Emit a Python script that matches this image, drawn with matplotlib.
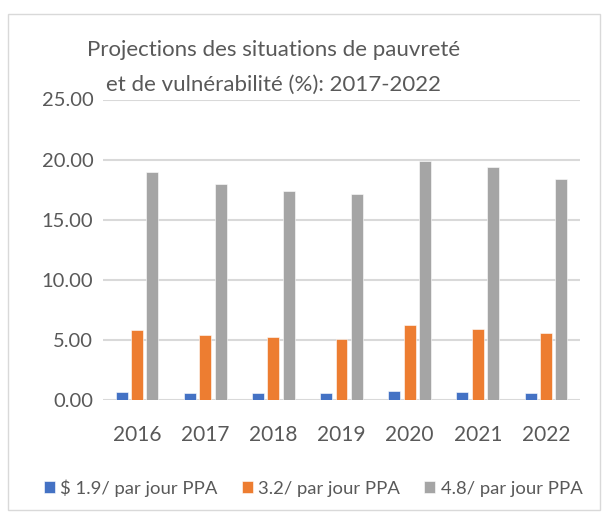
import matplotlib
matplotlib.use("Agg")
import matplotlib.pyplot as plt
import numpy as np
from matplotlib.patches import Rectangle

years = ["2016", "2017", "2018", "2019", "2020", "2021", "2022"]
s19 = [0.66, 0.61, 0.55, 0.55, 0.72, 0.66, 0.61]
s32 = [5.82, 5.37, 5.20, 5.04, 6.20, 5.93, 5.54]
s48 = [19.0, 18.0, 17.4, 17.15, 19.9, 19.4, 18.4]
labels = ["$ 1.9/ par jour PPA", "3.2/ par jour PPA", "4.8/ par jour PPA"]
colors = ["#4472C4", "#ED7D31", "#A5A5A5"]
yticks = [0, 5, 10, 15, 20, 25]

plt.rcParams['font.family'] = ['Lato', 'DejaVu Sans']

fig = plt.figure(figsize=(6.05, 5.21), dpi=100)
fig.patches.append(Rectangle((8/605, 1-510/521), 592/605, (510-14)/521,
                             transform=fig.transFigure, fill=False,
                             edgecolor="#d9d9d9", linewidth=1.0))
ax = fig.add_axes([103/605, 1-400/521, 477/605, (400-99.5)/521])

x = np.arange(len(years))
w = 0.175
off = 0.225
for i, (s, c, lab) in enumerate(zip([s19, s32, s48], colors, labels)):
    ax.bar(x + (i-1)*off, s, width=w, color=c, label=lab, zorder=3,
           edgecolor="white", linewidth=0.4)

ax.set_xlim(-0.5, len(years)-0.5)
ax.set_ylim(0, 25)
ax.set_yticks(yticks)
ax.set_yticklabels([f"{v:.2f}" for v in yticks], fontsize=14.5, color="#595959")
ax.set_xticks(x)
ax.set_xticklabels(years, fontsize=15, color="#595959")
ax.tick_params(axis='x', length=0, pad=18)
ax.tick_params(axis='y', length=0, pad=7)
ax.yaxis.grid(True, color="#d9d9d9", linewidth=1.5, zorder=0)
for sp in ax.spines.values():
    sp.set_visible(False)

fig.text(274/605, 1-50/521, "Projections des situations de pauvreté",
         ha="center", va="center", fontsize=16, color="#595959")
fig.text(274/605, 1-85/521, "et de vulnérabilité (%): 2017-2022",
         ha="center", va="center", fontsize=16, color="#595959")

fig.legend(loc="center", bbox_to_anchor=(313/605, 1-488/521), ncol=3,
           frameon=False, fontsize=13.3, handlelength=0.6, handleheight=0.6,
           handletextpad=0.3, columnspacing=1.3, labelcolor="#595959")

fig.savefig("out.png", dpi=100)
